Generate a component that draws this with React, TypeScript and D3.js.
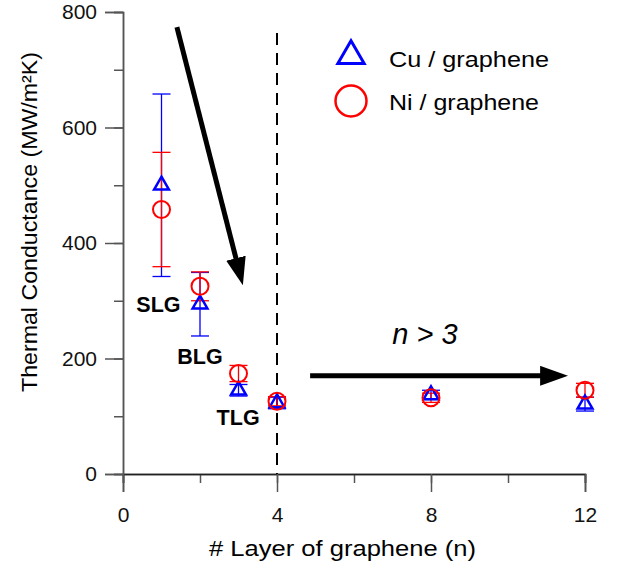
import { useEffect, useRef } from 'react';
import * as d3 from 'd3';

const layers = [1, 2, 3, 4, 8, 12];
const cuValues = [500, 294, 145, 123, 137, 121];
const cuErrors = [158, 55, 10, 10, 8, 12];
const niValues = [458, 325, 174, 126, 132, 145];
const niErrors = [99, 25, 14, 8, 8, 12];
const xTicks = [0, 4, 8, 12];
const yTicks = [0, 200, 400, 600, 800];
const phaseLabels = ['SLG', 'BLG', 'TLG'];

const font = "'Liberation Sans', Arial, sans-serif";

function App() {
  const width = 619;
  const height = 568;
  const xScale = d3.scaleLinear().domain([0, 12]).range([123, 585]);
  const yScale = d3.scaleLinear().domain([0, 800]).range([474, 12]);

  const gxRef = useRef<SVGGElement>(null);
  const gyRef = useRef<SVGGElement>(null);

  useEffect(() => {
    const gx = d3.select(gxRef.current);
    gx.selectAll('*').remove();
    gx.append('g')
      .call(d3.axisBottom(xScale).tickValues(d3.range(0, 13, 2)).tickSize(9).tickFormat(() => ''));
    gx.append('g')
      .call(d3.axisBottom(xScale).tickValues(xTicks).tickSize(18).tickPadding(15).tickFormat(d3.format('d')));
    gx.selectAll('.domain').attr('stroke', '#222').attr('stroke-width', 1.5);
    gx.selectAll('line').attr('stroke', '#555').attr('stroke-width', 1.5);
    gx.selectAll('text').attr('font-size', 21).attr('font-family', font).attr('fill', '#111');

    const gy = d3.select(gyRef.current);
    gy.selectAll('*').remove();
    gy.append('g')
      .call(d3.axisLeft(yScale).tickValues(d3.range(0, 801, 100)).tickSize(9).tickFormat(() => ''));
    gy.append('g')
      .call(d3.axisLeft(yScale).tickValues(yTicks).tickSize(18).tickPadding(8).tickFormat(d3.format('d')));
    gy.selectAll('.domain').attr('stroke', '#555').attr('stroke-width', 1.5);
    gy.selectAll('line').attr('stroke', '#555').attr('stroke-width', 1.5);
    gy.selectAll('text').attr('font-size', 21).attr('font-family', font).attr('fill', '#111');
  }, []);

  const tri = d3.symbol().type(d3.symbolTriangle).size(95)();
  const triLegend = d3.symbol().type(d3.symbolTriangle).size(300)();

  const errorBars = (values: number[], errors: number[], color: string) =>
    layers.map((n, i) => {
      const x = xScale(n);
      const top = yScale(values[i] + errors[i]);
      const bot = yScale(values[i] - errors[i]);
      return (
        <g key={`${color}-${n}`} stroke={color} strokeWidth={1.3}>
          <line x1={x} x2={x} y1={top} y2={bot} />
          <line x1={x - 9} x2={x + 9} y1={top} y2={top} />
          <line x1={x - 9} x2={x + 9} y1={bot} y2={bot} />
        </g>
      );
    });

  // annotation arrows, from start to base of the head (data units)
  const arrowLine = d3.line<[number, number]>()
    .x((d) => xScale(d[0]))
    .y((d) => yScale(d[1]));

  const labelPos: [number, number][] = [[0.92, 280], [2.0, 190], [2.99, 84]];

  return (
    <svg width={width} height={height} style={{ position: 'absolute', left: 0, top: 0, background: '#fff' }}>
      <defs>
        <marker id="head" viewBox="0 0 28 20" refX="1" refY="10" markerWidth="28" markerHeight="20"
          orient="auto" markerUnits="userSpaceOnUse">
          <path d="M0,0 L28,10 L0,20 Z" fill="#000" />
        </marker>
      </defs>

      <line
        x1={xScale(4)} x2={xScale(4)} y1={33} y2={yScale(0)}
        stroke="#000" strokeWidth={2} strokeDasharray="12 8"
      />

      <g ref={gxRef} transform={`translate(0,${yScale(0)})`} />
      <g ref={gyRef} transform={`translate(${xScale(0)},0)`} />

      <path
        d={arrowLine([[1.4, 774], [2.94, 372]]) ?? ''}
        stroke="#000" strokeWidth={5} fill="none" markerEnd="url(#head)"
      />
      <path
        d={arrowLine([[4.86, 170], [10.86, 170]]) ?? ''}
        stroke="#000" strokeWidth={5} fill="none" markerEnd="url(#head)"
      />

      {errorBars(cuValues, cuErrors, '#0000ff')}
      {errorBars(niValues, niErrors, '#ff0000')}

      {layers.map((n, i) => (
        <path key={`cu-${n}`} d={tri ?? ''} transform={`translate(${xScale(n)},${yScale(cuValues[i])})`}
          fill="none" stroke="#0000ff" strokeWidth={2.5} />
      ))}
      {layers.map((n, i) => (
        <circle key={`ni-${n}`} cx={xScale(n)} cy={yScale(niValues[i])} r={8.5}
          fill="none" stroke="#ff0000" strokeWidth={2} />
      ))}

      {phaseLabels.map((t, i) => (
        <text key={t} x={xScale(labelPos[i][0])} y={yScale(labelPos[i][1])} textAnchor="middle"
          fontFamily={font} fontWeight="bold" fontSize={21.5} fill="#000">{t}</text>
      ))}

      <text x={425} y={344} textAnchor="middle" fontFamily={font} fontStyle="italic" fontSize={29} fill="#000">n &gt; 3</text>

      <path d={triLegend ?? ''} transform="translate(351,56)" fill="none" stroke="#0000ff" strokeWidth={3} />
      <circle cx={351} cy={101} r={15.5} fill="none" stroke="#ff0000" strokeWidth={2.5} />
      <text x={389} y={67} fontFamily={font} fontSize={22} fill="#000" textLength={160} lengthAdjust="spacingAndGlyphs">Cu / graphene</text>
      <text x={389} y={110} fontFamily={font} fontSize={22} fill="#000" textLength={150} lengthAdjust="spacingAndGlyphs">Ni / graphene</text>

      <text transform="translate(37,222) rotate(-90)" textAnchor="middle" fontFamily={font} fontSize={22.5} fill="#000"
        textLength={340} lengthAdjust="spacingAndGlyphs">
        Thermal Conductance (MW/m²K)
      </text>
      <text x={342.5} y={556} textAnchor="middle" fontFamily={font} fontSize={22.5} fill="#000"
        textLength={267} lengthAdjust="spacingAndGlyphs">
        # Layer of graphene (n)
      </text>
    </svg>
  );
}

export default App;
